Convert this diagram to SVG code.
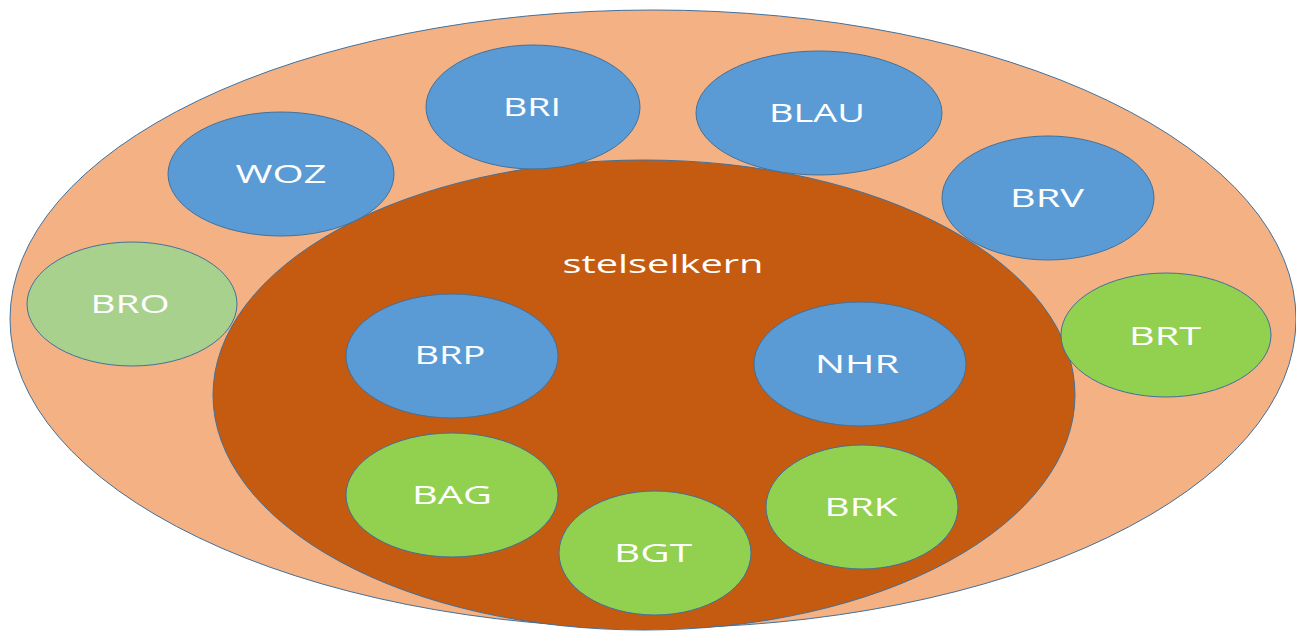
<svg xmlns="http://www.w3.org/2000/svg" width="1296" height="632" viewBox="0 0 1296 632">
<style>
ellipse{stroke:#41719C;stroke-width:1}
.blue{fill:#5B9BD5}
.green{fill:#92D050}
.lgreen{fill:#A9D18E}
text{font-family:"Open Sans","DejaVu Sans",sans-serif;font-size:25px;fill:#FFFFFF;text-anchor:middle}
</style>
<rect width="1296" height="632" fill="#FFFFFF"/>
<g id="outer"><ellipse cx="653" cy="319" rx="643" ry="309" fill="#F4B183"/></g>
<g id="stelselkern"><ellipse cx="644" cy="395" rx="431" ry="235" fill="#C55A11"/>
<text x="663" y="273" textLength="201" lengthAdjust="spacingAndGlyphs">stelselkern</text></g>
<g id="connectors"></g>
<g id="BRI"><ellipse class="blue" cx="533" cy="107" rx="107" ry="62"/><text x="532" y="116" textLength="58" lengthAdjust="spacingAndGlyphs">BRI</text></g>
<g id="WOZ"><ellipse class="blue" cx="281" cy="174" rx="113" ry="62"/><text x="281" y="183" textLength="91" lengthAdjust="spacingAndGlyphs">WOZ</text></g>
<g id="BLAU"><ellipse class="blue" cx="819" cy="113" rx="123" ry="62"/><text x="817" y="122" textLength="96" lengthAdjust="spacingAndGlyphs">BLAU</text></g>
<g id="BRV"><ellipse class="blue" cx="1048" cy="198" rx="106" ry="62"/><text x="1047" y="207" textLength="74" lengthAdjust="spacingAndGlyphs">BRV</text></g>
<g id="BRO"><ellipse class="lgreen" cx="132" cy="304" rx="105" ry="62"/><text x="130" y="313" textLength="79" lengthAdjust="spacingAndGlyphs">BRO</text></g>
<g id="BRT"><ellipse class="green" cx="1166" cy="335" rx="105" ry="62"/><text x="1165" y="345" textLength="72" lengthAdjust="spacingAndGlyphs">BRT</text></g>
<g id="BRP"><ellipse class="blue" cx="452" cy="356" rx="106" ry="62"/><text x="450" y="364" textLength="71" lengthAdjust="spacingAndGlyphs">BRP</text></g>
<g id="NHR"><ellipse class="blue" cx="860" cy="364" rx="106" ry="62"/><text x="857" y="373" textLength="84" lengthAdjust="spacingAndGlyphs">NHR</text></g>
<g id="BAG"><ellipse class="green" cx="452" cy="495" rx="106" ry="62"/><text x="452" y="504" textLength="80" lengthAdjust="spacingAndGlyphs">BAG</text></g>
<g id="BGT"><ellipse class="green" cx="655" cy="553" rx="96" ry="62"/><text x="653" y="562" textLength="78" lengthAdjust="spacingAndGlyphs">BGT</text></g>
<g id="BRK"><ellipse class="green" cx="862" cy="507" rx="96" ry="62"/><text x="861" y="516" textLength="73" lengthAdjust="spacingAndGlyphs">BRK</text></g>
</svg>
